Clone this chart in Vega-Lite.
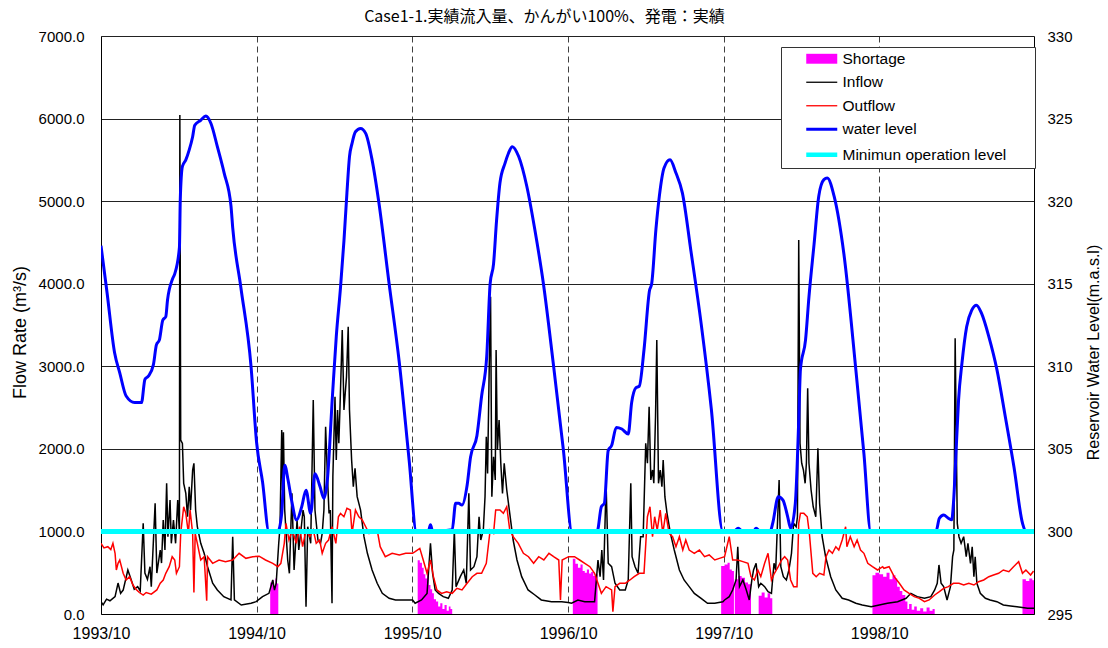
{
  "$schema": "https://vega.github.io/schema/vega-lite/v6.json",
  "width": 933,
  "height": 578,
  "autosize": {"type": "none"},
  "padding": {"left": 101, "top": 36, "right": 74, "bottom": 34},
  "background": "white",
  "config": {
    "view": {"stroke": null},
    "axis": {"labelFont": "Liberation Sans", "titleFont": "Liberation Sans", "labelColor": "#000", "titleColor": "#000", "domainColor": "#000", "domainWidth": 1, "ticks": false, "titleFontWeight": "normal", "labelFontSize": 15, "labelFlush": false, "labelOverlap": false},
    "legend": {"title": null, "orient": "none", "legendX": 680, "legendY": 11, "padding": 4, "symbolOffset": 29, "labelOffset": 13, "rowPadding": 6.5, "labelLimit": 400,
      "strokeColor": "#333", "fillColor": "white", "labelFont": "Liberation Sans", "labelFontSize": 15.5, "labelColor": "#000", "symbolType": "stroke", "symbolSize": 256}
  },
  "title": {"text": "Case1-1.実績流入量、かんがい100%、発電：実績", "font": "Noto Sans CJK JP", "fontSize": 16, "fontWeight": "normal", "color": "#000", "anchor": "middle", "frame": "group", "dx": -23, "offset": 4},
  "datasets": {
    "inflow": [
      {"d":"1993-10-01","q":150},{"d":"1993-10-06","q":110},{"d":"1993-10-14","q":180},{"d":"1993-10-22","q":160},{"d":"1993-11-03","q":210},{"d":"1993-11-10","q":375},{"d":"1993-11-16","q":250},{"d":"1993-11-22","q":290},{"d":"1993-12-03","q":533},{"d":"1993-12-11","q":412},{"d":"1993-12-18","q":300},{"d":"1993-12-26","q":331},{"d":"1994-01-01","q":280},{"d":"1994-01-08","q":1098},{"d":"1994-01-12","q":496},{"d":"1994-01-18","q":420},{"d":"1994-01-24","q":573},{"d":"1994-01-27","q":331},{"d":"1994-02-05","q":1340},{"d":"1994-02-09","q":496},{"d":"1994-02-17","q":775},{"d":"1994-02-20","q":617},{"d":"1994-02-24","q":1138},{"d":"1994-02-28","q":775},{"d":"1994-03-04","q":1583},{"d":"1994-03-07","q":936},{"d":"1994-03-12","q":1380},{"d":"1994-03-15","q":856},{"d":"1994-03-20","q":1138},{"d":"1994-03-25","q":856},{"d":"1994-03-30","q":1380},{"d":"1994-04-03","q":977},{"d":"1994-04-04","q":6043},{"d":"1994-04-06","q":2107},{"d":"1994-04-10","q":2067},{"d":"1994-04-13","q":1583},{"d":"1994-04-18","q":1461},{"d":"1994-04-22","q":1178},{"d":"1994-04-26","q":1542},{"d":"1994-04-29","q":1259},{"d":"1994-05-04","q":1744},{"d":"1994-05-07","q":1825},{"d":"1994-05-11","q":1259},{"d":"1994-05-15","q":1057},{"d":"1994-05-23","q":856},{"d":"1994-05-31","q":735},{"d":"1994-06-08","q":573},{"d":"1994-06-20","q":372},{"d":"1994-07-01","q":291},{"d":"1994-07-16","q":210},{"d":"1994-08-02","q":170},{"d":"1994-08-06","q":936},{"d":"1994-08-10","q":170},{"d":"1994-08-26","q":109},{"d":"1994-09-18","q":130},{"d":"1994-09-30","q":150},
      {"d":"1994-10-15","q":210},{"d":"1994-10-30","q":250},{"d":"1994-11-08","q":412},{"d":"1994-11-12","q":290},{"d":"1994-11-16","q":372},{"d":"1994-11-22","q":856},{"d":"1994-11-25","q":1057},{"d":"1994-11-29","q":2228},{"d":"1994-12-01","q":1500},{"d":"1994-12-03","q":2200},{"d":"1994-12-06","q":1259},{"d":"1994-12-13","q":654},{"d":"1994-12-17","q":493},{"d":"1994-12-23","q":1461},{"d":"1994-12-28","q":533},{"d":"1995-01-04","q":1138},{"d":"1995-01-08","q":775},{"d":"1995-01-14","q":1057},{"d":"1995-01-18","q":1259},{"d":"1995-01-21","q":1178},{"d":"1995-01-25","q":88},{"d":"1995-01-29","q":1057},{"d":"1995-02-05","q":856},{"d":"1995-02-11","q":2592},{"d":"1995-02-15","q":1259},{"d":"1995-02-22","q":896},{"d":"1995-02-28","q":856},{"d":"1995-03-04","q":977},{"d":"1995-03-08","q":1259},{"d":"1995-03-12","q":2268},{"d":"1995-03-16","q":1703},{"d":"1995-03-20","q":1219},{"d":"1995-03-23","q":1259},{"d":"1995-03-27","q":130},{"d":"1995-03-29","q":1663},{"d":"1995-04-03","q":2632},{"d":"1995-04-06","q":1865},{"d":"1995-04-09","q":2470},{"d":"1995-04-12","q":2067},{"d":"1995-04-15","q":2552},{"d":"1995-04-18","q":3076},{"d":"1995-04-20","q":3439},{"d":"1995-04-24","q":2470},{"d":"1995-04-27","q":2673},{"d":"1995-04-30","q":2874},{"d":"1995-05-04","q":3479},{"d":"1995-05-07","q":2470},{"d":"1995-05-12","q":1865},{"d":"1995-05-16","q":1542},{"d":"1995-05-20","q":1764},{"d":"1995-05-25","q":1421},{"d":"1995-06-02","q":1259},{"d":"1995-06-10","q":936},{"d":"1995-06-18","q":735},{"d":"1995-06-29","q":533},{"d":"1995-07-11","q":372},{"d":"1995-07-23","q":250},{"d":"1995-08-08","q":190},{"d":"1995-08-23","q":170},{"d":"1995-09-13","q":170},{"d":"1995-10-02","q":170},
      {"d":"1995-10-08","q":130},{"d":"1995-10-23","q":170},{"d":"1995-11-05","q":250},{"d":"1995-11-13","q":856},{"d":"1995-11-18","q":493},{"d":"1995-11-24","q":291},{"d":"1995-12-02","q":250},{"d":"1995-12-13","q":210},{"d":"1995-12-25","q":190},{"d":"1996-01-03","q":291},{"d":"1996-01-08","q":1017},{"d":"1996-01-12","q":331},{"d":"1996-01-22","q":452},{"d":"1996-01-30","q":533},{"d":"1996-02-05","q":372},{"d":"1996-02-11","q":1461},{"d":"1996-02-15","q":533},{"d":"1996-02-23","q":573},{"d":"1996-03-01","q":694},{"d":"1996-03-06","q":1178},{"d":"1996-03-10","q":896},{"d":"1996-03-16","q":1017},{"d":"1996-03-20","q":1421},{"d":"1996-03-23","q":2147},{"d":"1996-03-26","q":1703},{"d":"1996-03-30","q":3036},{"d":"1996-04-02","q":3843},{"d":"1996-04-05","q":1421},{"d":"1996-04-09","q":1905},{"d":"1996-04-13","q":1623},{"d":"1996-04-15","q":3197},{"d":"1996-04-18","q":1986},{"d":"1996-04-22","q":2349},{"d":"1996-04-26","q":1825},{"d":"1996-04-30","q":1461},{"d":"1996-05-04","q":1825},{"d":"1996-05-10","q":1502},{"d":"1996-05-17","q":1219},{"d":"1996-05-25","q":896},{"d":"1996-06-03","q":654},{"d":"1996-06-14","q":452},{"d":"1996-06-29","q":291},{"d":"1996-07-15","q":230},{"d":"1996-07-30","q":170},{"d":"1996-08-23","q":149},{"d":"1996-09-16","q":149},{"d":"1996-10-01","q":140},
      {"d":"1996-10-09","q":130},{"d":"1996-10-24","q":170},{"d":"1996-11-09","q":149},{"d":"1996-12-02","q":149},{"d":"1996-12-10","q":654},{"d":"1996-12-15","q":452},{"d":"1996-12-19","q":775},{"d":"1996-12-23","q":412},{"d":"1996-12-29","q":1583},{"d":"1997-01-03","q":614},{"d":"1997-01-11","q":573},{"d":"1997-01-19","q":372},{"d":"1997-01-30","q":291},{"d":"1997-02-12","q":291},{"d":"1997-02-19","q":412},{"d":"1997-02-25","q":1583},{"d":"1997-02-28","q":694},{"d":"1997-03-07","q":573},{"d":"1997-03-14","q":493},{"d":"1997-03-20","q":936},{"d":"1997-03-26","q":936},{"d":"1997-04-01","q":2067},{"d":"1997-04-05","q":1825},{"d":"1997-04-09","q":2510},{"d":"1997-04-13","q":1623},{"d":"1997-04-17","q":1744},{"d":"1997-04-20","q":1583},{"d":"1997-04-24","q":2389},{"d":"1997-04-27","q":3318},{"d":"1997-05-01","q":1583},{"d":"1997-05-05","q":1744},{"d":"1997-05-09","q":1542},{"d":"1997-05-12","q":1865},{"d":"1997-05-16","q":1421},{"d":"1997-05-21","q":1219},{"d":"1997-05-29","q":977},{"d":"1997-06-07","q":775},{"d":"1997-06-19","q":533},{"d":"1997-06-30","q":412},{"d":"1997-07-12","q":331},{"d":"1997-07-24","q":250},{"d":"1997-08-09","q":190},{"d":"1997-08-24","q":130},{"d":"1997-09-10","q":130},{"d":"1997-09-29","q":149},
      {"d":"1997-10-03","q":170},{"d":"1997-10-14","q":210},{"d":"1997-10-22","q":291},{"d":"1997-10-30","q":412},{"d":"1997-11-03","q":815},{"d":"1997-11-07","q":331},{"d":"1997-11-15","q":412},{"d":"1997-11-23","q":291},{"d":"1997-11-30","q":170},{"d":"1997-12-06","q":412},{"d":"1997-12-10","q":533},{"d":"1997-12-16","q":614},{"d":"1997-12-22","q":331},{"d":"1997-12-27","q":372},{"d":"1998-01-05","q":331},{"d":"1998-01-13","q":270},{"d":"1998-01-21","q":250},{"d":"1998-01-27","q":614},{"d":"1998-01-31","q":533},{"d":"1998-02-08","q":1623},{"d":"1998-02-12","q":573},{"d":"1998-02-18","q":452},{"d":"1998-02-25","q":412},{"d":"1998-03-03","q":533},{"d":"1998-03-09","q":735},{"d":"1998-03-14","q":1098},{"d":"1998-03-20","q":1057},{"d":"1998-03-23","q":1178},{"d":"1998-03-26","q":4529},{"d":"1998-03-29","q":2067},{"d":"1998-04-02","q":1825},{"d":"1998-04-06","q":1744},{"d":"1998-04-10","q":1583},{"d":"1998-04-13","q":1825},{"d":"1998-04-16","q":2733},{"d":"1998-04-19","q":1825},{"d":"1998-04-24","q":1502},{"d":"1998-04-29","q":1299},{"d":"1998-05-05","q":1178},{"d":"1998-05-10","q":2007},{"d":"1998-05-14","q":1340},{"d":"1998-05-20","q":936},{"d":"1998-05-28","q":694},{"d":"1998-06-09","q":452},{"d":"1998-06-21","q":291},{"d":"1998-07-06","q":190},{"d":"1998-07-21","q":170},{"d":"1998-08-07","q":130},{"d":"1998-08-22","q":109},{"d":"1998-09-12","q":88},{"d":"1998-10-01","q":109},
      {"d":"1998-10-20","q":130},{"d":"1998-11-13","q":149},{"d":"1998-12-03","q":190},{"d":"1998-12-14","q":250},{"d":"1998-12-29","q":210},{"d":"1999-01-15","q":190},{"d":"1999-01-30","q":210},{"d":"1999-02-08","q":291},{"d":"1999-02-14","q":372},{"d":"1999-02-18","q":594},{"d":"1999-02-23","q":372},{"d":"1999-03-01","q":331},{"d":"1999-03-09","q":170},{"d":"1999-03-17","q":331},{"d":"1999-03-22","q":694},{"d":"1999-03-25","q":775},{"d":"1999-03-28","q":3338},{"d":"1999-04-02","q":1098},{"d":"1999-04-06","q":936},{"d":"1999-04-11","q":856},{"d":"1999-04-17","q":936},{"d":"1999-04-23","q":694},{"d":"1999-04-27","q":856},{"d":"1999-05-03","q":614},{"d":"1999-05-07","q":815},{"d":"1999-05-11","q":452},{"d":"1999-05-14","q":694},{"d":"1999-05-18","q":372},{"d":"1999-05-26","q":250},{"d":"1999-06-07","q":190},{"d":"1999-06-18","q":170},{"d":"1999-07-04","q":149},{"d":"1999-07-19","q":109},{"d":"1999-08-05","q":97},{"d":"1999-08-20","q":88},{"d":"1999-09-14","q":69},{"d":"1999-09-29","q":69}
    ],
    "outflow": [
      {"d":"1993-10-01","q":856},{"d":"1993-10-08","q":800},{"d":"1993-10-17","q":815},{"d":"1993-10-24","q":780},{"d":"1993-10-29","q":856},{"d":"1993-11-03","q":735},{"d":"1993-11-06","q":533},{"d":"1993-11-10","q":614},{"d":"1993-11-14","q":654},{"d":"1993-11-22","q":493},{"d":"1993-11-29","q":412},{"d":"1993-12-07","q":452},{"d":"1993-12-15","q":351},{"d":"1993-12-22","q":300},{"d":"1993-12-30","q":260},{"d":"1994-01-08","q":230},{"d":"1994-01-15","q":260},{"d":"1994-01-27","q":240},{"d":"1994-02-09","q":291},{"d":"1994-02-17","q":372},{"d":"1994-02-24","q":412},{"d":"1994-03-02","q":493},{"d":"1994-03-10","q":573},{"d":"1994-03-17","q":694},{"d":"1994-03-23","q":654},{"d":"1994-03-27","q":493},{"d":"1994-04-03","q":573},{"d":"1994-04-06","q":977},{"d":"1994-04-13","q":1299},{"d":"1994-04-18","q":1219},{"d":"1994-04-24","q":977},{"d":"1994-04-28","q":1259},{"d":"1994-05-04","q":977},{"d":"1994-05-07","q":260},{"d":"1994-05-10","q":977},{"d":"1994-05-15","q":856},{"d":"1994-05-23","q":654},{"d":"1994-05-31","q":694},{"d":"1994-06-06","q":160},{"d":"1994-06-08","q":694},{"d":"1994-06-20","q":614},{"d":"1994-07-05","q":654},{"d":"1994-07-20","q":634},{"d":"1994-08-06","q":654},{"d":"1994-08-21","q":735},{"d":"1994-09-06","q":674},{"d":"1994-09-22","q":694},
      {"d":"1994-10-07","q":700},{"d":"1994-10-22","q":654},{"d":"1994-11-08","q":614},{"d":"1994-11-20","q":573},{"d":"1994-11-27","q":614},{"d":"1994-12-05","q":856},{"d":"1994-12-09","q":1098},{"d":"1994-12-16","q":896},{"d":"1994-12-24","q":1017},{"d":"1995-01-02","q":856},{"d":"1995-01-10","q":1057},{"d":"1995-01-17","q":815},{"d":"1995-01-25","q":1017},{"d":"1995-02-03","q":936},{"d":"1995-02-11","q":1017},{"d":"1995-02-18","q":856},{"d":"1995-02-26","q":896},{"d":"1995-03-04","q":735},{"d":"1995-03-12","q":856},{"d":"1995-03-19","q":896},{"d":"1995-03-27","q":1057},{"d":"1995-04-05","q":856},{"d":"1995-04-11","q":1178},{"d":"1995-04-16","q":1219},{"d":"1995-04-24","q":1178},{"d":"1995-05-01","q":1280},{"d":"1995-05-09","q":1259},{"d":"1995-05-13","q":977},{"d":"1995-05-21","q":1259},{"d":"1995-05-29","q":1178},{"d":"1995-06-06","q":1138},{"d":"1995-06-14","q":1057},{"d":"1995-06-22","q":977},{"d":"1995-06-29","q":1017},{"d":"1995-07-11","q":1017},{"d":"1995-07-18","q":815},{"d":"1995-07-30","q":694},{"d":"1995-08-15","q":735},{"d":"1995-09-01","q":715},{"d":"1995-09-16","q":735},{"d":"1995-10-02","q":735},
      {"d":"1995-10-08","q":755},{"d":"1995-10-19","q":795},{"d":"1995-10-27","q":654},{"d":"1995-11-05","q":493},{"d":"1995-11-13","q":654},{"d":"1995-11-20","q":452},{"d":"1995-11-28","q":291},{"d":"1995-12-09","q":250},{"d":"1995-12-21","q":270},{"d":"1996-01-03","q":250},{"d":"1996-01-14","q":311},{"d":"1996-01-26","q":291},{"d":"1996-02-07","q":372},{"d":"1996-02-19","q":452},{"d":"1996-03-01","q":493},{"d":"1996-03-12","q":493},{"d":"1996-03-23","q":614},{"d":"1996-04-01","q":1017},{"d":"1996-04-09","q":977},{"d":"1996-04-14","q":1259},{"d":"1996-04-24","q":1259},{"d":"1996-05-02","q":1219},{"d":"1996-05-10","q":1299},{"d":"1996-05-17","q":1017},{"d":"1996-05-25","q":936},{"d":"1996-06-06","q":856},{"d":"1996-06-18","q":735},{"d":"1996-06-30","q":694},{"d":"1996-07-12","q":614},{"d":"1996-07-24","q":694},{"d":"1996-08-05","q":654},{"d":"1996-08-17","q":735},{"d":"1996-08-28","q":694},{"d":"1996-09-09","q":654},{"d":"1996-09-13","q":170},{"d":"1996-09-17","q":654},{"d":"1996-10-02","q":694},
      {"d":"1996-10-16","q":694},{"d":"1996-10-28","q":654},{"d":"1996-11-09","q":614},{"d":"1996-11-21","q":573},{"d":"1996-12-02","q":493},{"d":"1996-12-10","q":372},{"d":"1996-12-18","q":250},{"d":"1996-12-29","q":331},{"d":"1997-01-11","q":291},{"d":"1997-01-14","q":28},{"d":"1997-01-19","q":331},{"d":"1997-01-30","q":372},{"d":"1997-02-12","q":372},{"d":"1997-02-23","q":412},{"d":"1997-03-05","q":452},{"d":"1997-03-17","q":493},{"d":"1997-03-28","q":493},{"d":"1997-04-05","q":1178},{"d":"1997-04-11","q":1299},{"d":"1997-04-17","q":936},{"d":"1997-04-22","q":1178},{"d":"1997-04-28","q":1017},{"d":"1997-05-05","q":1259},{"d":"1997-05-11","q":977},{"d":"1997-05-18","q":1219},{"d":"1997-05-26","q":977},{"d":"1997-06-03","q":936},{"d":"1997-06-11","q":815},{"d":"1997-06-19","q":936},{"d":"1997-06-27","q":775},{"d":"1997-07-04","q":896},{"d":"1997-07-12","q":775},{"d":"1997-07-24","q":735},{"d":"1997-08-05","q":775},{"d":"1997-08-17","q":694},{"d":"1997-08-28","q":715},{"d":"1997-09-10","q":654},{"d":"1997-09-21","q":674},{"d":"1997-10-03","q":694},
      {"d":"1997-10-14","q":936},{"d":"1997-10-22","q":654},{"d":"1997-11-03","q":654},{"d":"1997-11-15","q":634},{"d":"1997-11-27","q":614},{"d":"1997-12-04","q":452},{"d":"1997-12-12","q":412},{"d":"1997-12-20","q":533},{"d":"1997-12-27","q":452},{"d":"1998-01-05","q":614},{"d":"1998-01-13","q":735},{"d":"1998-01-21","q":412},{"d":"1998-01-28","q":493},{"d":"1998-02-06","q":573},{"d":"1998-02-14","q":654},{"d":"1998-02-21","q":694},{"d":"1998-02-28","q":654},{"d":"1998-03-07","q":412},{"d":"1998-03-14","q":331},{"d":"1998-03-22","q":331},{"d":"1998-03-26","q":1098},{"d":"1998-03-30","q":1219},{"d":"1998-04-07","q":1219},{"d":"1998-04-15","q":1178},{"d":"1998-04-20","q":977},{"d":"1998-04-28","q":493},{"d":"1998-05-06","q":452},{"d":"1998-05-14","q":493},{"d":"1998-05-24","q":472},{"d":"1998-05-29","q":694},{"d":"1998-06-05","q":775},{"d":"1998-06-13","q":735},{"d":"1998-06-21","q":815},{"d":"1998-06-28","q":775},{"d":"1998-07-06","q":896},{"d":"1998-07-14","q":1057},{"d":"1998-07-17","q":815},{"d":"1998-07-25","q":936},{"d":"1998-08-03","q":815},{"d":"1998-08-10","q":896},{"d":"1998-08-18","q":775},{"d":"1998-08-26","q":735},{"d":"1998-09-04","q":614},{"d":"1998-09-15","q":573},{"d":"1998-09-27","q":533},{"d":"1998-10-09","q":573},
      {"d":"1998-10-12","q":553},{"d":"1998-10-24","q":573},{"d":"1998-11-05","q":452},{"d":"1998-11-17","q":372},{"d":"1998-11-28","q":291},{"d":"1998-12-10","q":250},{"d":"1998-12-22","q":210},{"d":"1999-01-03","q":190},{"d":"1999-01-15","q":149},{"d":"1999-01-26","q":170},{"d":"1999-02-08","q":230},{"d":"1999-02-19","q":270},{"d":"1999-03-01","q":311},{"d":"1999-03-12","q":331},{"d":"1999-03-24","q":372},{"d":"1999-04-06","q":372},{"d":"1999-04-17","q":351},{"d":"1999-04-29","q":372},{"d":"1999-05-11","q":351},{"d":"1999-05-22","q":391},{"d":"1999-06-03","q":412},{"d":"1999-06-15","q":452},{"d":"1999-06-26","q":472},{"d":"1999-07-08","q":493},{"d":"1999-07-19","q":533},{"d":"1999-08-01","q":513},{"d":"1999-08-12","q":573},{"d":"1999-08-24","q":634},{"d":"1999-09-02","q":493},{"d":"1999-09-10","q":533},{"d":"1999-09-21","q":472},{"d":"1999-09-28","q":520}
    ],
    "short": [
      {"d":"1994-11-02","q":380},{"d":"1994-11-06","q":410},{"d":"1994-11-10","q":340},{"d":"1994-11-14","q":430},{"d":"1994-11-18","q":370},{"d":"1994-11-21","q":0},
      {"d":"1995-10-14","q":650},{"d":"1995-10-19","q":620},{"d":"1995-10-24","q":560},{"d":"1995-10-28","q":480},{"d":"1995-11-01","q":430},{"d":"1995-11-05","q":500},{"d":"1995-11-09","q":350},{"d":"1995-11-13","q":300},{"d":"1995-11-17","q":250},{"d":"1995-11-21","q":180},{"d":"1995-11-26","q":150},{"d":"1995-12-01","q":90},{"d":"1995-12-06","q":130},{"d":"1995-12-11","q":60},{"d":"1995-12-16","q":110},{"d":"1995-12-21","q":40},{"d":"1995-12-26","q":90},{"d":"1995-12-30","q":60},{"d":"1996-01-03","q":0},
      {"d":"1996-10-12","q":670},{"d":"1996-10-18","q":610},{"d":"1996-10-24","q":560},{"d":"1996-10-30","q":600},{"d":"1996-11-04","q":520},{"d":"1996-11-09","q":500},{"d":"1996-11-14","q":540},{"d":"1996-11-19","q":490},{"d":"1996-11-24","q":510},{"d":"1996-11-29","q":460},{"d":"1996-12-04","q":480},{"d":"1996-12-09","q":0},
      {"d":"1997-09-25","q":580},{"d":"1997-10-03","q":600},{"d":"1997-10-10","q":620},{"d":"1997-10-15","q":540},{"d":"1997-10-20","q":520},{"d":"1997-10-25","q":0},{"d":"1997-10-27","q":420},{"d":"1997-11-04","q":460},{"d":"1997-11-12","q":440},{"d":"1997-11-20","q":380},{"d":"1997-11-27","q":360},{"d":"1997-12-04","q":0},{"d":"1997-12-22","q":220},{"d":"1997-12-29","q":260},{"d":"1998-01-05","q":200},{"d":"1998-01-12","q":250},{"d":"1998-01-18","q":190},{"d":"1998-01-23","q":0},
      {"d":"1998-09-15","q":470},{"d":"1998-09-22","q":500},{"d":"1998-10-01","q":480},{"d":"1998-10-10","q":450},{"d":"1998-10-18","q":500},{"d":"1998-10-25","q":420},{"d":"1998-11-01","q":470},{"d":"1998-11-08","q":430},{"d":"1998-11-12","q":330},{"d":"1998-11-18","q":280},{"d":"1998-11-24","q":230},{"d":"1998-12-01","q":150},{"d":"1998-12-06","q":60},{"d":"1998-12-10","q":120},{"d":"1998-12-16","q":50},{"d":"1998-12-22","q":90},{"d":"1998-12-28","q":40},{"d":"1999-01-05","q":70},{"d":"1999-01-12","q":30},{"d":"1999-01-20","q":80},{"d":"1999-01-27","q":40},{"d":"1999-02-03","q":60},{"d":"1999-02-08","q":0},
      {"d":"1999-09-02","q":420},{"d":"1999-09-10","q":400},{"d":"1999-09-18","q":430},{"d":"1999-09-25","q":410},{"d":"1999-09-29","q":0}
    ],
    "lvl": [
      {"d":"1993-10-01","v":317.3},{"d":"1993-10-15","v":314.5},{"d":"1993-11-02","v":310.8},{"d":"1993-11-14","v":309.6},{"d":"1993-11-29","v":308.2},{"d":"1993-12-19","v":307.8},{"d":"1994-01-04","v":307.8},{"d":"1994-01-12","v":309.2},{"d":"1994-01-20","v":309.4},{"d":"1994-02-01","v":310.1},{"d":"1994-02-08","v":311.3},{"d":"1994-02-15","v":311.6},{"d":"1994-02-23","v":312.8},{"d":"1994-03-02","v":313.0},{"d":"1994-03-06","v":314.0},{"d":"1994-03-18","v":315.3},{"d":"1994-03-23","v":315.6},{"d":"1994-04-03","v":317.2},{"d":"1994-04-05","v":320.1},{"d":"1994-04-10","v":322.1},{"d":"1994-04-18","v":322.5},{"d":"1994-04-26","v":323.1},{"d":"1994-05-04","v":323.9},{"d":"1994-05-09","v":324.6},{"d":"1994-05-23","v":324.9},{"d":"1994-06-04","v":325.15},{"d":"1994-06-16","v":324.7},{"d":"1994-07-01","v":323.3},{"d":"1994-07-17","v":321.7},{"d":"1994-08-02","v":319.7},{"d":"1994-08-06","v":318.4},{"d":"1994-08-25","v":314.8},{"d":"1994-09-18","v":310.0},{"d":"1994-10-01","v":305.4},{"d":"1994-10-15","v":303.0},{"d":"1994-10-30","v":300.0},
      {"d":"1994-11-20","v":300.0},{"d":"1994-11-29","v":301.1},{"d":"1994-12-06","v":304.0},{"d":"1994-12-14","v":303.1},{"d":"1994-12-22","v":301.9},{"d":"1995-01-03","v":300.7},{"d":"1995-01-15","v":301.5},{"d":"1995-01-25","v":302.5},{"d":"1995-02-05","v":301.1},{"d":"1995-02-15","v":303.5},{"d":"1995-02-27","v":302.7},{"d":"1995-03-08","v":302.0},{"d":"1995-03-16","v":303.1},{"d":"1995-03-28","v":308.2},{"d":"1995-04-06","v":311.8},{"d":"1995-04-16","v":314.8},{"d":"1995-04-24","v":317.6},{"d":"1995-05-01","v":320.5},{"d":"1995-05-07","v":322.7},{"d":"1995-05-13","v":323.5},{"d":"1995-05-21","v":324.2},{"d":"1995-06-02","v":324.4},{"d":"1995-06-14","v":324.1},{"d":"1995-06-29","v":322.5},{"d":"1995-07-15","v":319.9},{"d":"1995-08-08","v":315.0},{"d":"1995-09-01","v":310.2},{"d":"1995-09-24","v":304.3},{"d":"1995-10-11","v":300.0},
      {"d":"1995-11-08","v":300.0},{"d":"1995-11-13","v":300.4},{"d":"1995-11-18","v":300.0},{"d":"1996-01-03","v":300.1},{"d":"1996-01-11","v":301.7},{"d":"1996-01-18","v":301.7},{"d":"1996-01-26","v":301.6},{"d":"1996-02-07","v":302.8},{"d":"1996-02-15","v":304.5},{"d":"1996-03-01","v":305.8},{"d":"1996-03-12","v":308.2},{"d":"1996-03-24","v":310.6},{"d":"1996-04-01","v":315.0},{"d":"1996-04-09","v":316.2},{"d":"1996-04-16","v":318.8},{"d":"1996-04-24","v":321.1},{"d":"1996-05-06","v":322.3},{"d":"1996-05-14","v":322.9},{"d":"1996-05-23","v":323.3},{"d":"1996-06-07","v":322.7},{"d":"1996-06-26","v":320.9},{"d":"1996-07-15","v":318.25},{"d":"1996-08-04","v":315.0},{"d":"1996-08-27","v":310.2},{"d":"1996-09-20","v":304.9},{"d":"1996-10-10","v":300.0},
      {"d":"1996-12-08","v":300.0},{"d":"1996-12-18","v":301.5},{"d":"1996-12-25","v":301.7},{"d":"1997-01-03","v":304.9},{"d":"1997-01-11","v":305.2},{"d":"1997-01-22","v":306.3},{"d":"1997-02-04","v":306.2},{"d":"1997-02-19","v":305.9},{"d":"1997-02-27","v":307.8},{"d":"1997-03-09","v":308.7},{"d":"1997-03-17","v":308.8},{"d":"1997-03-28","v":311.0},{"d":"1997-04-10","v":314.6},{"d":"1997-04-15","v":315.0},{"d":"1997-04-25","v":318.3},{"d":"1997-05-03","v":320.3},{"d":"1997-05-14","v":322.0},{"d":"1997-05-28","v":322.5},{"d":"1997-06-11","v":321.7},{"d":"1997-06-26","v":320.5},{"d":"1997-07-16","v":317.0},{"d":"1997-08-09","v":312.6},{"d":"1997-09-02","v":307.4},{"d":"1997-09-29","v":300.0},
      {"d":"1997-10-25","v":300.0},{"d":"1997-11-04","v":300.2},{"d":"1997-11-14","v":300.0},{"d":"1997-12-10","v":300.0},{"d":"1997-12-16","v":300.2},{"d":"1997-12-25","v":300.0},{"d":"1998-01-18","v":300.0},{"d":"1998-01-24","v":300.5},{"d":"1998-02-06","v":302.1},{"d":"1998-02-17","v":301.9},{"d":"1998-02-28","v":300.9},{"d":"1998-03-07","v":300.2},{"d":"1998-03-18","v":301.7},{"d":"1998-03-26","v":306.7},{"d":"1998-03-30","v":309.8},{"d":"1998-04-11","v":311.6},{"d":"1998-04-19","v":314.2},{"d":"1998-05-01","v":317.4},{"d":"1998-05-12","v":320.3},{"d":"1998-05-24","v":321.3},{"d":"1998-06-01","v":321.4},{"d":"1998-06-17","v":320.3},{"d":"1998-07-10","v":316.8},{"d":"1998-08-07","v":309.8},{"d":"1998-08-26","v":304.7},{"d":"1998-09-11","v":300.0},
      {"d":"1999-02-11","v":300.0},{"d":"1999-02-19","v":300.8},{"d":"1999-03-01","v":301.0},{"d":"1999-03-12","v":300.8},{"d":"1999-03-20","v":300.7},{"d":"1999-03-24","v":301.7},{"d":"1999-03-31","v":305.3},{"d":"1999-04-05","v":307.95},{"d":"1999-04-13","v":310.2},{"d":"1999-04-24","v":312.4},{"d":"1999-05-06","v":313.4},{"d":"1999-05-17","v":313.7},{"d":"1999-05-29","v":313.2},{"d":"1999-06-15","v":311.8},{"d":"1999-07-04","v":309.8},{"d":"1999-07-24","v":306.9},{"d":"1999-08-13","v":303.9},{"d":"1999-09-02","v":300.5},{"d":"1999-09-10","v":300.0},{"d":"1999-09-29","v":300.0}
    ]
  },
  "resolve": {"scale": {"y": "independent"}},
  "layer": [
    {
      "encoding": {
        "x": {"field": "d", "type": "temporal",
          "scale": {"type": "utc", "domain": [{"year": 1993, "month": 10, "date": 1, "utc": true}, {"year": 1999, "month": 9, "date": 29, "utc": true}]},
          "axis": {"title": null, "format": "%Y/%m", "labelFontSize": 16, "labelPadding": 11, "grid": true, "gridColor": "#404040", "gridDash": [6, 4], "gridWidth": 1,
            "values": [{"year": 1993, "month": 10, "date": 1, "utc": true}, {"year": 1994, "month": 10, "date": 1, "utc": true}, {"year": 1995, "month": 10, "date": 1, "utc": true}, {"year": 1996, "month": 10, "date": 1, "utc": true}, {"year": 1997, "month": 10, "date": 1, "utc": true}, {"year": 1998, "month": 10, "date": 1, "utc": true}]}},
        "y": {"field": "q", "type": "quantitative", "stack": null,
          "scale": {"domain": [0, 7000], "nice": false},
          "axis": {"values": [0, 1000, 2000, 3000, 4000, 5000, 6000, 7000], "format": ".1f", "labelFontSize": 15, "labelPadding": 17, "grid": true, "gridColor": "#222", "gridWidth": 1,
            "title": "Flow Rate (m³/s)", "titleFontSize": 18, "titleAngle": 270, "titleX": -81, "titleY": 296, "titleBaseline": "middle", "titleAlign": "center"}}
      },
      "layer": [
        {
          "data": {"name": "short"},
          "mark": {"type": "area", "interpolate": "step-after", "opacity": 1, "clip": true},
          "encoding": {
            "color": {"datum": "Shortage", "type": "nominal",
              "scale": {"domain": ["Shortage", "Inflow", "Outflow", "water level", "Minimun operation level"], "range": ["#ff00ff", "#000000", "#ff0000", "#0000ff", "#00ffff"]},
              "legend": {"labelExpr": "datum.label == 'Minimun operation level' ? datum.label + '\u2800\u2800' : datum.label",
                "encode": {"symbols": {"update": {
                  "shape": {"signal": "datum.value === 'Shortage' ? 'M-1,-0.32H1V0.32H-1Z' : 'stroke'"},
                  "size": {"value": 961},
                  "fill": {"signal": "datum.value === 'Shortage' ? '#ff00ff' : 'transparent'"},
                  "stroke": {"signal": "datum.value === 'Shortage' ? 'transparent' : datum.value === 'Inflow' ? '#000000' : datum.value === 'Outflow' ? '#ff0000' : datum.value === 'water level' ? '#0000ff' : '#00ffff'"},
                  "strokeWidth": {"signal": "datum.value === 'Shortage' ? 0 : datum.value === 'water level' ? 3 : datum.value === 'Minimun operation level' ? 4.5 : 1.3"},
                  "opacity": {"value": 1}
                }}}}
            }
          }
        },
        {
          "data": {"name": "inflow"},
          "mark": {"type": "line", "strokeWidth": 1.5, "clip": true},
          "encoding": {"color": {"datum": "Inflow", "type": "nominal",
              "legend": {"labelExpr": "datum.label == 'Minimun operation level' ? datum.label + '\u2800\u2800' : datum.label",
                "encode": {"symbols": {"update": {
                  "shape": {"signal": "datum.value === 'Shortage' ? 'M-1,-0.32H1V0.32H-1Z' : 'stroke'"},
                  "size": {"value": 961},
                  "fill": {"signal": "datum.value === 'Shortage' ? '#ff00ff' : 'transparent'"},
                  "stroke": {"signal": "datum.value === 'Shortage' ? 'transparent' : datum.value === 'Inflow' ? '#000000' : datum.value === 'Outflow' ? '#ff0000' : datum.value === 'water level' ? '#0000ff' : '#00ffff'"},
                  "strokeWidth": {"signal": "datum.value === 'Shortage' ? 0 : datum.value === 'water level' ? 3 : datum.value === 'Minimun operation level' ? 4.5 : 1.3"},
                  "opacity": {"value": 1}
                }}}}}}
        },
        {
          "data": {"name": "outflow"},
          "mark": {"type": "line", "strokeWidth": 1.5, "clip": true},
          "encoding": {"color": {"datum": "Outflow", "type": "nominal",
              "legend": {"labelExpr": "datum.label == 'Minimun operation level' ? datum.label + '\u2800\u2800' : datum.label",
                "encode": {"symbols": {"update": {
                  "shape": {"signal": "datum.value === 'Shortage' ? 'M-1,-0.32H1V0.32H-1Z' : 'stroke'"},
                  "size": {"value": 961},
                  "fill": {"signal": "datum.value === 'Shortage' ? '#ff00ff' : 'transparent'"},
                  "stroke": {"signal": "datum.value === 'Shortage' ? 'transparent' : datum.value === 'Inflow' ? '#000000' : datum.value === 'Outflow' ? '#ff0000' : datum.value === 'water level' ? '#0000ff' : '#00ffff'"},
                  "strokeWidth": {"signal": "datum.value === 'Shortage' ? 0 : datum.value === 'water level' ? 3 : datum.value === 'Minimun operation level' ? 4.5 : 1.3"},
                  "opacity": {"value": 1}
                }}}}}}
        }
      ]
    },
    {
      "layer": [
        {
          "data": {"name": "lvl"},
          "mark": {"type": "line", "strokeWidth": 3, "interpolate": "monotone", "clip": true},
          "encoding": {
            "x": {"field": "d", "type": "temporal"},
            "y": {"field": "v", "type": "quantitative",
              "scale": {"domain": [295, 330], "nice": false, "zero": false},
              "axis": {"orient": "right", "values": [295, 300, 305, 310, 315, 320, 325, 330], "format": "d", "labelFontSize": 15, "labelPadding": 13, "grid": false,
                "title": "Reservoir Water Level(m.a.s.l)", "titleFontSize": 16, "titleAngle": 270, "titleX": 59, "titleY": 316, "titleBaseline": "middle", "titleAlign": "center"}},
            "color": {"datum": "water level", "type": "nominal",
              "legend": {"labelExpr": "datum.label == 'Minimun operation level' ? datum.label + '\u2800\u2800' : datum.label",
                "encode": {"symbols": {"update": {
                  "shape": {"signal": "datum.value === 'Shortage' ? 'M-1,-0.32H1V0.32H-1Z' : 'stroke'"},
                  "size": {"value": 961},
                  "fill": {"signal": "datum.value === 'Shortage' ? '#ff00ff' : 'transparent'"},
                  "stroke": {"signal": "datum.value === 'Shortage' ? 'transparent' : datum.value === 'Inflow' ? '#000000' : datum.value === 'Outflow' ? '#ff0000' : datum.value === 'water level' ? '#0000ff' : '#00ffff'"},
                  "strokeWidth": {"signal": "datum.value === 'Shortage' ? 0 : datum.value === 'water level' ? 3 : datum.value === 'Minimun operation level' ? 4.5 : 1.3"},
                  "opacity": {"value": 1}
                }}}}}
          }
        },
        {
          "data": {"values": [{"lv": 300}]},
          "mark": {"type": "rule", "strokeWidth": 5},
          "encoding": {
            "y": {"field": "lv", "type": "quantitative"},
            "color": {"datum": "Minimun operation level", "type": "nominal",
              "legend": {"labelExpr": "datum.label == 'Minimun operation level' ? datum.label + '\u2800\u2800' : datum.label",
                "encode": {"symbols": {"update": {
                  "shape": {"signal": "datum.value === 'Shortage' ? 'M-1,-0.32H1V0.32H-1Z' : 'stroke'"},
                  "size": {"value": 961},
                  "fill": {"signal": "datum.value === 'Shortage' ? '#ff00ff' : 'transparent'"},
                  "stroke": {"signal": "datum.value === 'Shortage' ? 'transparent' : datum.value === 'Inflow' ? '#000000' : datum.value === 'Outflow' ? '#ff0000' : datum.value === 'water level' ? '#0000ff' : '#00ffff'"},
                  "strokeWidth": {"signal": "datum.value === 'Shortage' ? 0 : datum.value === 'water level' ? 3 : datum.value === 'Minimun operation level' ? 4.5 : 1.3"},
                  "opacity": {"value": 1}
                }}}}}
          }
        }
      ]
    }
  ]
}
